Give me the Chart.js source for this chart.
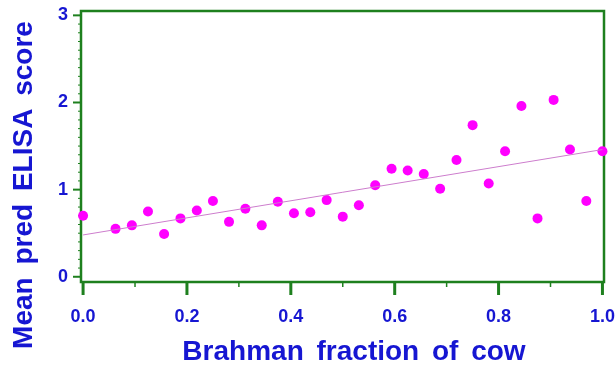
<!DOCTYPE html>
<html>
<head>
<meta charset="utf-8">
<script src="https://cdn.jsdelivr.net/npm/chart.js@4"></script>
<style>
  body { margin: 0; background: #fff; }
  canvas { display: block; }
</style>
</head>
<body>
<canvas id="myChart" width="616" height="367"></canvas>
<script>
// ********** data ************
const brahmanFraction = [0, 0.0625, 0.094, 0.125, 0.156, 0.1875, 0.219, 0.25, 0.281, 0.3125,
  0.344, 0.375, 0.406, 0.4375, 0.469, 0.5, 0.531, 0.5625, 0.594, 0.625, 0.656, 0.6875,
  0.719, 0.75, 0.781, 0.8125, 0.844, 0.875, 0.906, 0.9375, 0.969, 1.0];
const elisaScore = [0.70, 0.55, 0.59, 0.75, 0.49, 0.67, 0.76, 0.87, 0.63, 0.78,
  0.59, 0.86, 0.73, 0.74, 0.88, 0.69, 0.82, 1.05, 1.24, 1.22, 1.18, 1.01,
  1.34, 1.74, 1.07, 1.44, 1.96, 0.67, 2.03, 1.46, 0.87, 1.44];
const fitX = [0, 1];
const fitY = [0.48, 1.46];
const xTicks = [0, 0.2, 0.4, 0.6, 0.8, 1.0];
const yTicks = [0, 1, 2, 3];

const green = "rgb(30, 128, 30)";
const blue = "rgb(22, 22, 210)";
const font = "'Liberation Sans', Arial, sans-serif";

// ********** frame, tick marks, titles ************
const framePlugin = {
  id: "frame",
  beforeDatasetsDraw(chart) {
    const { ctx, chartArea: a, scales } = chart;
    ctx.save();
    ctx.strokeStyle = green;
    ctx.lineWidth = 2.5;
    ctx.strokeRect(a.left, a.top, a.right - a.left, a.bottom - a.top);

    // x ticks
    const x = scales.x;
    for (let i = 0; i <= 10; i++) {
      const v = i / 10;
      const px = x.getPixelForValue(v);
      const major = i % 2 === 0;
      ctx.lineWidth = major ? 3 : 1.5;
      ctx.beginPath();
      ctx.moveTo(px, a.bottom);
      ctx.lineTo(px, a.bottom + (major ? 13 : 5));
      ctx.stroke();
    }
    // y ticks
    const y = scales.y;
    for (let i = 0; i <= 30; i++) {
      const v = i / 10;
      const py = y.getPixelForValue(v);
      const major = i % 10 === 0;
      ctx.lineWidth = major ? 2 : 1;
      ctx.beginPath();
      ctx.moveTo(a.left, py);
      ctx.lineTo(a.left - (major ? 8 : 3), py);
      ctx.stroke();
    }
    ctx.restore();
  },
  afterDraw(chart) {
    const { ctx } = chart;
    ctx.save();
    ctx.fillStyle = blue;
    ctx.font = "bold 28px " + font;
    ctx.wordSpacing = "5px";
    ctx.textAlign = "center";
    // x title
    ctx.textBaseline = "alphabetic";
    ctx.fillText("Brahman fraction of cow", 354, 360);
    // y title
    ctx.translate(24, 185);
    ctx.rotate(-Math.PI / 2);
    ctx.textBaseline = "middle";
    ctx.fillText("Mean pred ELISA score", 0, 0);
    ctx.restore();
  },
};

const ctx = document.getElementById("myChart");
const myChart = new Chart(ctx, {
  type: "scatter",
  data: {
    datasets: [
      {
        type: "line",
        data: fitX.map((v, i) => ({ x: v, y: fitY[i] })),
        borderColor: "rgb(205, 125, 205)",
        borderWidth: 1,
        pointRadius: 0,
        fill: false,
      },
      {
        data: brahmanFraction.map((v, i) => ({ x: v, y: elisaScore[i] })),
        backgroundColor: "#ff00ff",
        borderColor: "#ff00ff",
        pointRadius: 5,
        borderWidth: 0,
        clip: false,
      },
    ],
  },
  options: {
    responsive: false,
    animation: false,
    layout: { padding: { left: 0, right: 12, top: 11, bottom: 0 } },
    plugins: { legend: { display: false }, tooltip: { enabled: false } },
    scales: {
      x: {
        type: "linear",
        min: -0.004,
        max: 1.003,
        afterBuildTicks: (s) => { s.ticks = xTicks.map((v) => ({ value: v })); },
        afterFit: (s) => {
          s.height = 85;
          s.paddingLeft = 0;
          s.paddingRight = 0;
        },
        grid: { display: false, drawTicks: false },
        border: { display: false },
        ticks: {
          padding: 24,
          color: blue,
          font: { family: font, size: 18, weight: "bold" },
          callback: (v) => v.toFixed(1),
          maxRotation: 0,
        },
      },
      y: {
        type: "linear",
        min: -0.06,
        max: 3.05,
        afterBuildTicks: (s) => { s.ticks = yTicks.map((v) => ({ value: v })); },
        afterFit: (s) => {
          s.width = 81;
          s.paddingTop = 0;
          s.paddingBottom = 0;
        },
        grid: { display: false, drawTicks: false },
        border: { display: false },
        ticks: {
          padding: 13,
          color: blue,
          font: { family: font, size: 18, weight: "bold" },
        },
      },
    },
  },
  plugins: [framePlugin],
});
</script>
</body>
</html>
